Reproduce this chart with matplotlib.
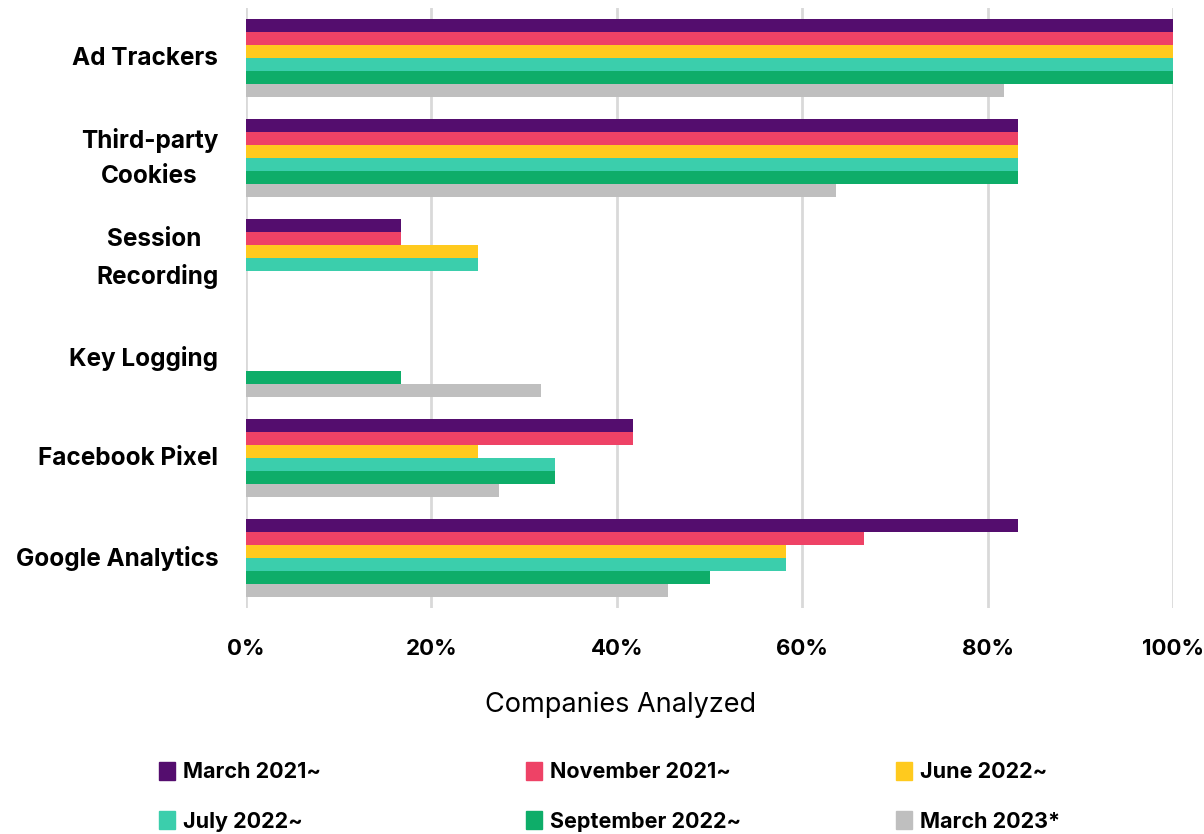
import numpy as np
import matplotlib.pyplot as plt
from matplotlib.patches import Patch

# Categories (top to bottom) and series
CATEGORIES = ["Ad Trackers", "Third-party\nCookies", "Session \nRecording",
              "Key Logging", "Facebook Pixel", "Google Analytics"]
SERIES = ["March 2021~", "November 2021~", "June 2022~",
          "July 2022~", "September 2022~", "March 2023*"]
COLORS = ["#540D6E", "#EE4266", "#FFCA1E", "#3BCEAC", "#0EAD69", "#BFBFBF"]

# Share of companies (%) for each series, in CATEGORIES order
march_2021 = [100, 83.3, 16.7, 0, 41.7, 83.3]
november_2021 = [100, 83.3, 16.7, 0, 41.7, 66.7]
june_2022 = [100, 83.3, 25.0, 0, 25.0, 58.3]
july_2022 = [100, 83.3, 25.0, 0, 33.3, 58.3]
september_2022 = [100, 83.3, 0, 16.7, 33.3, 50.0]
march_2023 = [81.8, 63.6, 0, 31.8, 27.3, 45.5]

VALUES = [march_2021, november_2021, june_2022, july_2022, september_2022, march_2023]
TICKS = [0, 20, 40, 60, 80, 100]

plt.rcParams['font.family'] = ['Inter', 'DejaVu Sans']

fig = plt.figure(figsize=(12.04, 8.34), dpi=100)
ax = fig.add_axes([246 / 1204, 1 - 608 / 834, (1173 - 246) / 1204, 600 / 834])

bar_h = 0.13
index = np.arange(len(CATEGORIES))
for i, (vals, color, name) in enumerate(zip(VALUES, COLORS, SERIES)):
	ax.barh(index - 0.39 + bar_h * (i + 0.5), vals, height=bar_h, color=color,
		label=name, zorder=3)

ax.set_ylim(len(CATEGORIES) - 0.5, -0.5)
ax.set_xlim(0, 100)
# two-line labels sit a little higher than the band centre
label_shift = np.array([-0.02 if "\n" not in c else -0.085 for c in CATEGORIES])
ax.set_yticks(index + label_shift)
ax.set_yticklabels(CATEGORIES, fontsize=17.5, fontweight="bold",
	multialignment="center", linespacing=1.65)
ax.set_xticks(TICKS)
ax.set_xticklabels([f"{t}%" for t in TICKS], fontsize=16, fontweight="bold")
ax.tick_params(axis="y", length=0, pad=20)
ax.tick_params(axis="x", length=0, pad=22)
ax.grid(axis="x", color="#D9D9D9", linewidth=2, zorder=0)
for s in ax.spines.values():
	s.set_visible(False)
ax.set_xlabel("Companies Analyzed", fontsize=19.5)
ax.xaxis.set_label_coords((621 - 246) / 927, -(705 - 608) / 600, transform=ax.transAxes)
ax.xaxis.label.set_va("center")

# Legend: three columns placed side by side
handles = [Patch(color=c) for c in COLORS]
col_x = [159 / 1204, 526 / 1204, 896 / 1204]
for c in range(3):
	leg = fig.legend([handles[c], handles[c + 3]], [SERIES[c], SERIES[c + 3]],
		loc="upper left", bbox_to_anchor=(col_x[c], 1 - 762 / 834), frameon=False,
		handlelength=0.72, handleheight=0.9, handletextpad=0.4, labelspacing=1.35,
		borderpad=0, borderaxespad=0, prop={"size": 15.5, "weight": "bold"})

fig.savefig("out.png", dpi=100)
